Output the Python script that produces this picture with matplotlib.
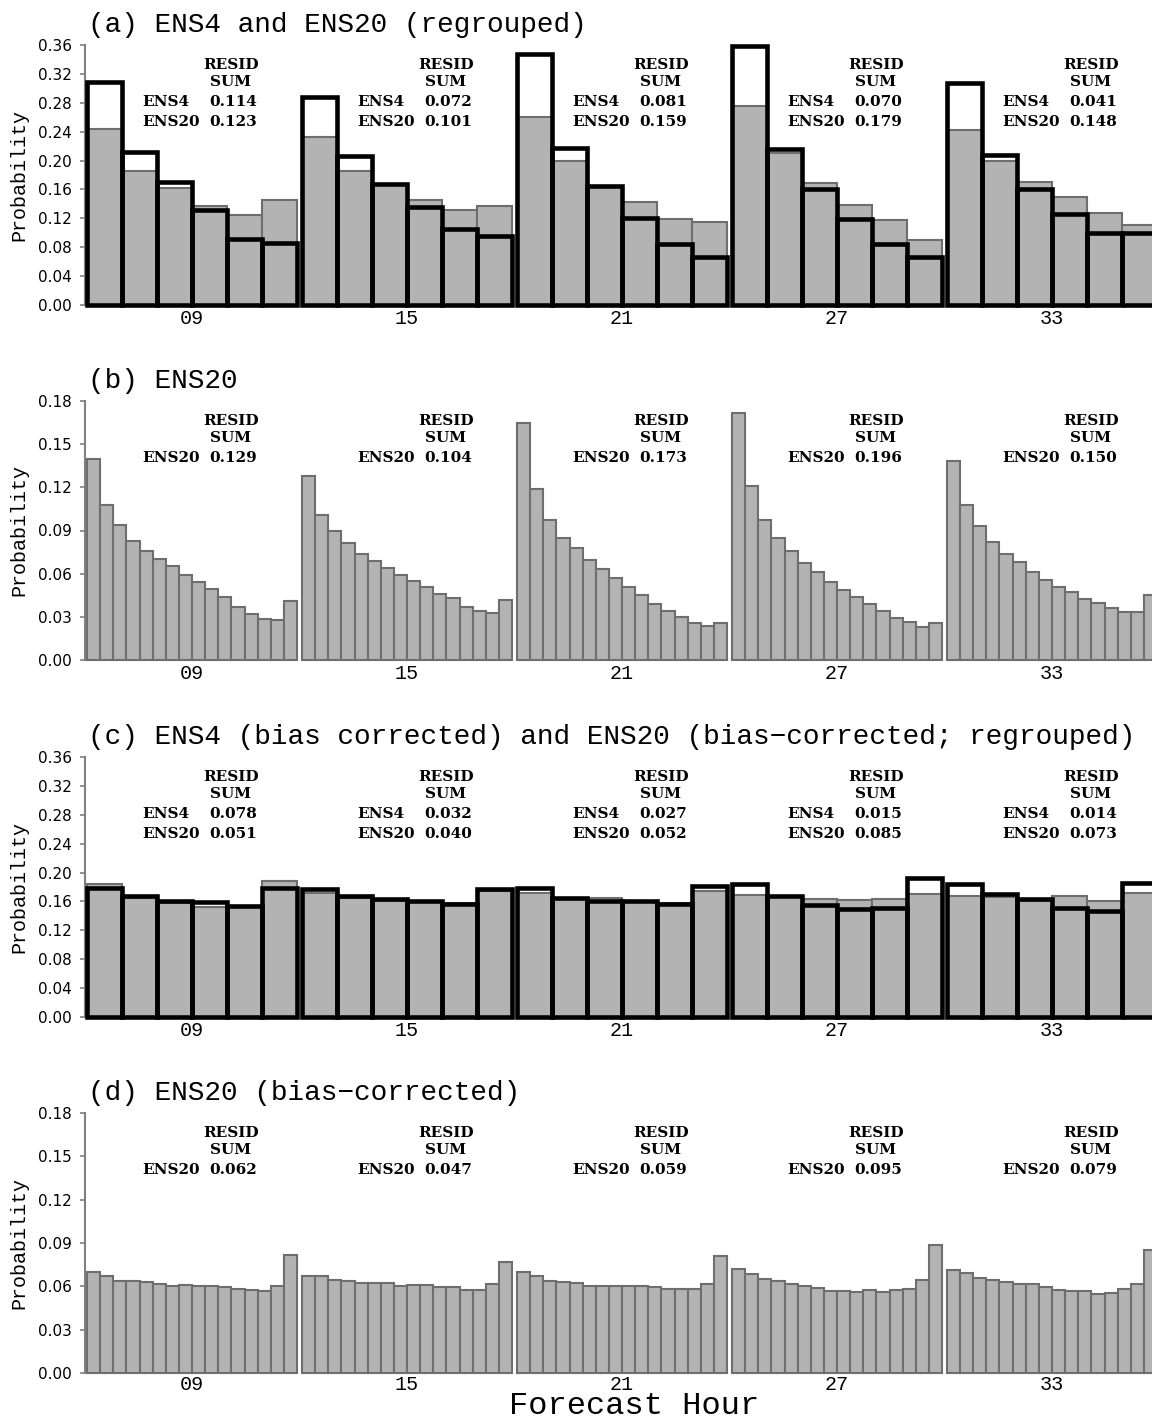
import numpy as np
import matplotlib
matplotlib.use("Agg")
import matplotlib.pyplot as plt
from matplotlib.transforms import blended_transform_factory

# ---------------- data ----------------
hours = ['09', '15', '21', '27', '33']

titles = ['(a) ENS4 and ENS20 (regrouped)',
          '(b) ENS20',
          '(c) ENS4 (bias corrected) and ENS20 (bias\u2212corrected; regrouped)',
          '(d) ENS20 (bias\u2212corrected)']

# panel (a): regrouped 6-bin rank histograms
ens4_a = [[0.309, 0.212, 0.170, 0.131, 0.091, 0.086],
          [0.288, 0.207, 0.167, 0.136, 0.105, 0.096],
          [0.348, 0.217, 0.165, 0.121, 0.085, 0.066],
          [0.358, 0.216, 0.160, 0.119, 0.085, 0.066],
          [0.308, 0.208, 0.160, 0.126, 0.100, 0.100]]
ens20_a = [[0.244, 0.185, 0.162, 0.137, 0.124, 0.146],
           [0.233, 0.185, 0.166, 0.146, 0.132, 0.137],
           [0.261, 0.199, 0.163, 0.142, 0.119, 0.115],
           [0.275, 0.210, 0.169, 0.139, 0.118, 0.090],
           [0.243, 0.200, 0.170, 0.150, 0.127, 0.111]]
resid4_a = ['0.114', '0.072', '0.081', '0.070', '0.041']
resid20_a = ['0.123', '0.101', '0.159', '0.179', '0.148']

# panel (b): ENS20 full rank histograms
ens20_b = [[0.140, 0.108, 0.094, 0.083, 0.076, 0.070, 0.0655, 0.059, 0.054, 0.049, 0.044, 0.0366, 0.032, 0.0285, 0.028, 0.041],
           [0.128, 0.101, 0.090, 0.081, 0.074, 0.069, 0.064, 0.059, 0.055, 0.051, 0.046, 0.043, 0.037, 0.034, 0.0326, 0.042],
           [0.1645, 0.119, 0.097, 0.085, 0.0777, 0.0694, 0.0632, 0.0569, 0.0509, 0.0451, 0.0389, 0.0342, 0.0301, 0.0255, 0.0238, 0.0257],
           [0.172, 0.121, 0.097, 0.085, 0.0757, 0.0672, 0.0614, 0.0542, 0.0487, 0.0438, 0.0388, 0.0342, 0.0295, 0.0265, 0.0231, 0.0256],
           [0.138, 0.108, 0.093, 0.082, 0.074, 0.068, 0.061, 0.0555, 0.051, 0.047, 0.0423, 0.0393, 0.0361, 0.0335, 0.0335, 0.0453]]
resid20_b = ['0.129', '0.104', '0.173', '0.196', '0.150']

# panel (c): bias-corrected, regrouped
ens4_c = [[0.179, 0.167, 0.161, 0.159, 0.154, 0.179],
          [0.177, 0.167, 0.163, 0.161, 0.156, 0.177],
          [0.178, 0.165, 0.161, 0.160, 0.156, 0.182],
          [0.184, 0.168, 0.155, 0.150, 0.151, 0.192],
          [0.184, 0.170, 0.163, 0.151, 0.147, 0.185]]
ens20_c = [[0.184, 0.165, 0.158, 0.153, 0.152, 0.188],
           [0.172, 0.165, 0.161, 0.160, 0.158, 0.175],
           [0.172, 0.164, 0.165, 0.159, 0.158, 0.175],
           [0.169, 0.166, 0.164, 0.162, 0.163, 0.170],
           [0.168, 0.166, 0.160, 0.167, 0.160, 0.172]]
resid4_c = ['0.078', '0.032', '0.027', '0.015', '0.014']
resid20_c = ['0.051', '0.040', '0.052', '0.085', '0.073']

# panel (d): ENS20 bias-corrected
ens20_d = [[0.0699, 0.0674, 0.0639, 0.0635, 0.0628, 0.0616, 0.0600, 0.0607, 0.0600, 0.0602, 0.0593, 0.0582, 0.0572, 0.0568, 0.0600, 0.0819],
           [0.0669, 0.0669, 0.0644, 0.0637, 0.0625, 0.0621, 0.0621, 0.0605, 0.0607, 0.0609, 0.0595, 0.0595, 0.0572, 0.0577, 0.0616, 0.0768],
           [0.0697, 0.0669, 0.0635, 0.0628, 0.0620, 0.0600, 0.0600, 0.0600, 0.0600, 0.0600, 0.0595, 0.0582, 0.0584, 0.0584, 0.0618, 0.0808],
           [0.0722, 0.0688, 0.0651, 0.0639, 0.0618, 0.0600, 0.0588, 0.0570, 0.0570, 0.0561, 0.0577, 0.0558, 0.0575, 0.0582, 0.0646, 0.0889],
           [0.0715, 0.0692, 0.0658, 0.0642, 0.0632, 0.0614, 0.0614, 0.0595, 0.0572, 0.0570, 0.0565, 0.0549, 0.0554, 0.0584, 0.0616, 0.0849]]
resid20_d = ['0.062', '0.047', '0.059', '0.095', '0.079']

yticks_a = [0.00, 0.04, 0.08, 0.12, 0.16, 0.20, 0.24, 0.28, 0.32, 0.36]
yticks_b = [0.00, 0.03, 0.06, 0.09, 0.12, 0.15, 0.18]

# ---------------- style ----------------
W, H = 1152, 1422
GRAY_FILL = '#b3b3b3'
GRAY_EDGE = '#6e6e6e'
SPINE = '#808080'
MONO = 'Liberation Mono'
PX = 210.0            # pixels per group width
PITCH = 215.0 / PX    # group pitch in group units
X0 = 87.0             # pixel of first group's left edge
AX_LEFT = 85.0

fig = plt.figure(figsize=(W / 100, H / 100), dpi=100)


def make_axes(top_px, bottom_px, xpad=3):
    ax = fig.add_axes([AX_LEFT / W, 1 - bottom_px / H, 1 - AX_LEFT / W, (bottom_px - top_px) / H])
    ax.set_xlim((AX_LEFT - X0) / PX, (W - X0) / PX)
    for s in ['top', 'right', 'bottom']:
        ax.spines[s].set_visible(False)
    ax.spines['left'].set_color(SPINE)
    ax.spines['left'].set_linewidth(1.5)
    ax.tick_params(axis='y', direction='out', length=3.6, width=1.2, color=SPINE, pad=6,
                   labelsize=11, labelcolor='black')
    ax.tick_params(axis='x', length=0, pad=xpad, labelsize=14.5)
    ax.set_xticks([g * PITCH + 0.5 for g in range(len(hours))])
    ax.set_xticklabels(hours, family=MONO)
    ax.patch.set_visible(False)
    return ax


def draw_gray(ax, data):
    for g, vals in enumerate(data):
        n = len(vals)
        xs = g * PITCH + np.arange(n) / n
        ax.bar(xs, vals, width=1.0 / n, align='edge', color=GRAY_FILL,
               edgecolor=GRAY_EDGE, linewidth=1.5, clip_on=False, zorder=2)


def draw_black(ax, data):
    for g, vals in enumerate(data):
        n = len(vals)
        xs = g * PITCH + np.arange(n) / n
        ax.bar(xs, vals, width=1.0 / n, align='edge', fill=False,
               edgecolor='black', linewidth=3.3, clip_on=False, zorder=3)


def resid_text(ax, rows):
    tr = blended_transform_factory(ax.transData, ax.transAxes)
    kw = dict(transform=tr, family='DejaVu Serif', weight='bold', fontsize=11, va='baseline')
    yrow = [1 - 61 / 260, 1 - 81 / 260]
    for g in range(len(hours)):
        x = g * PITCH
        ax.text(x + 0.685, 1 - 24.3 / 260, 'RESID', ha='center', **kw)
        ax.text(x + 0.685, 1 - 40.7 / 260, 'SUM', ha='center', **kw)
        for r, (lab, vals) in enumerate(rows):
            ax.text(x + 0.262, yrow[r], lab, ha='left', **kw)
            ax.text(x + 0.583, yrow[r], vals[g], ha='left', **kw)


def finish(ax, top_px, bottom_px, yticks, ymax, title):
    ax.set_ylim(0, ymax)
    ax.set_yticks(yticks)
    ax.set_yticklabels(['%.2f' % v for v in yticks])
    fig.text(88 / W, 1 - (top_px - 13) / H, title, family=MONO, fontsize=20, va='baseline', ha='left')
    fig.text(19 / W, 1 - (top_px + bottom_px) / 2 / H, 'Probability', family=MONO,
             fontsize=14.4, rotation=90, va='center', ha='center')


panels = [(45, 305), (401, 660), (757, 1017), (1113, 1373)]

# (a)
ax = make_axes(*panels[0])
draw_gray(ax, ens20_a)
draw_black(ax, ens4_a)
resid_text(ax, [('ENS4', resid4_a), ('ENS20', resid20_a)])
finish(ax, *panels[0], yticks_a, 0.36, titles[0])

# (b)
ax = make_axes(*panels[1])
draw_gray(ax, ens20_b)
resid_text(ax, [('ENS20', resid20_b)])
finish(ax, *panels[1], yticks_b, 0.18, titles[1])

# (c)
ax = make_axes(*panels[2])
draw_gray(ax, ens20_c)
draw_black(ax, ens4_c)
resid_text(ax, [('ENS4', resid4_c), ('ENS20', resid20_c)])
finish(ax, *panels[2], yticks_a, 0.36, titles[2])

# (d)
ax = make_axes(*panels[3], xpad=1.5)
draw_gray(ax, ens20_d)
resid_text(ax, [('ENS20', resid20_d)])
finish(ax, *panels[3], yticks_b, 0.18, titles[3])

fig.text(634 / W, 1.0 / H, 'Forecast Hour', family=MONO, fontsize=23, va='bottom', ha='center')

fig.savefig('out.png', dpi=100)
